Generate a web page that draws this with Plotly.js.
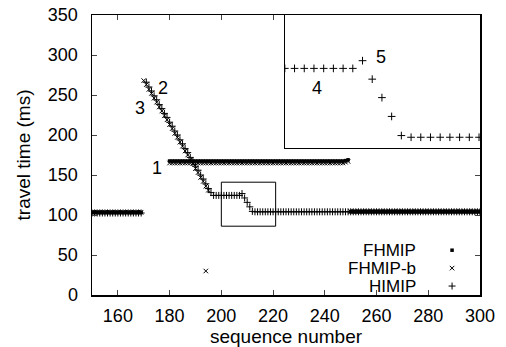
<!DOCTYPE html>
<html><head><meta charset="utf-8">
<script src="https://cdn.plot.ly/plotly-3.0.1.min.js"></script>
<style>html,body{margin:0;padding:0;background:#fff}#chart{width:506px;height:347px}</style>
</head><body><div id="chart"></div>
<script>
const seriesNames = ["FHMIP", "FHMIP-b", "HIMIP"];
const xTicks = [160, 180, 200, 220, 240, 260, 280, 300];
const yTicks = [0, 50, 100, 150, 200, 250, 300, 350];

// FHMIP: before handover, tunnelled packets, after handover
const fhmipSeq = [
 150,151,152,153,154,155,156,157,158,159,160,161,162,163,164,165,166,167,168,169,
 180,181,182,183,184,185,186,187,188,189,190,191,192,193,194,195,196,197,198,199,
 200,201,202,203,204,205,206,207,208,209,210,211,212,213,214,215,216,217,218,219,
 220,221,222,223,224,225,226,227,228,229,230,231,232,233,234,235,236,237,238,239,
 240,241,242,243,244,245,246,247,248,249,
 250,251,252,253,254,255,256,257,258,259,260,261,262,263,264,265,266,267,268,269,
 270,271,272,273,274,275,276,277,278,279,280,281,282,283,284,285,286,287,288,289,
 290,291,292,293,294,295,296,297,298,299,300];
const fhmipTime = [
 103,103,103,103,103,103,103,103,103,103,103,103,103,103,103,103,103,103,103,103,
 167.5,167.5,167.5,167.5,167.5,167.5,167.5,167.5,167.5,167.5,167.5,167.5,167.5,167.5,167.5,167.5,167.5,167.5,167.5,167.5,
 167.5,167.5,167.5,167.5,167.5,167.5,167.5,167.5,167.5,167.5,167.5,167.5,167.5,167.5,167.5,167.5,167.5,167.5,167.5,167.5,
 167.5,167.5,167.5,167.5,167.5,167.5,167.5,167.5,167.5,167.5,167.5,167.5,167.5,167.5,167.5,167.5,167.5,167.5,167.5,167.5,
 167.5,167.5,167.5,167.5,167.5,167.5,167.5,167.5,168,169,
 104,104,104,104,104,104,104,104,104,104,104,104,104,104,104,104,104,104,104,104,
 104,104,104,104,104,104,104,104,104,104,104,104,104,104,104,104,104,104,104,104,
 104,104,104,104,104,104,104,104,104,104,104];

// FHMIP-b: bicast copies (tunnel + direct path)
const fhmipbSeq = [
 150,151,152,153,154,155,156,157,158,159,160,161,162,163,164,165,166,167,168,169,
 170,171,172,173,174,175,176,177,178,179,180,181,182,183,184,185,186,187,188,189,
 190,191,192,193,194,195,
 180,181,182,183,184,185,186,187,188,189,190,191,192,193,194,195,196,197,198,199,
 200,201,202,203,204,205,206,207,208,209,210,211,212,213,214,215,216,217,218,219,
 220,221,222,223,224,225,226,227,228,229,230,231,232,233,234,235,236,237,238,239,
 240,241,242,243,244,245,246,247,248,249,
 194,
 250,251,252,253,254,255,256,257,258,259,260,261,262,263,264,265,266,267,268,269,
 270,271,272,273,274,275,276,277,278,279,280,281,282,283,284,285,286,287,288,289,
 290,291,292,293,294,295,296,297,298,299,300];
const fhmipbTime = [
 103.5,103.5,103.5,103.5,103.5,103.5,103.5,103.5,103.5,103.5,103.5,103.5,103.5,103.5,103.5,103.5,103.5,103.5,103.5,103.5,
 268,263,257,252,246,241,235,230,224,219,213,208,202,197,191,186,180,175,169,164,
 158,153,147,142,136,131,
 165,165,165,165,165,165,165,165,165,165,165,165,165,165,165,165,165,165,165,165,
 165,165,165,165,165,165,165,165,165,165,165,165,165,165,165,165,165,165,165,165,
 165,165,165,165,165,165,165,165,165,165,165,165,165,165,165,165,165,165,165,165,
 165,165,165,165,165,165,165,165,166,167,
 30,
 104.5,104.5,104.5,104.5,104.5,104.5,104.5,104.5,104.5,104.5,104.5,104.5,104.5,104.5,104.5,104.5,104.5,104.5,104.5,104.5,
 104.5,104.5,104.5,104.5,104.5,104.5,104.5,104.5,104.5,104.5,104.5,104.5,104.5,104.5,104.5,104.5,104.5,104.5,104.5,104.5,
 104.5,104.5,104.5,104.5,104.5,104.5,104.5,104.5,104.5,104.5,104.5];

// HIMIP
const himipSeq = [
 150,151,152,153,154,155,156,157,158,159,160,161,162,163,164,165,166,167,168,169,
 171,172,173,174,175,176,177,178,179,180,181,182,183,184,185,186,187,188,189,190,
 191,192,193,194,195,196,
 197,198,199,200,201,202,203,204,205,206,207,208,209,210,211,212,
 213,214,215,216,217,218,219,220,221,222,223,224,225,226,227,228,229,230,231,232,
 233,234,235,236,237,238,239,240,241,242,243,244,245,246,247,248,249,250,251,252,
 253,254,255,256,257,258,259,260,261,262,263,264,265,266,267,268,269,270,271,272,
 273,274,275,276,277,278,279,280,281,282,283,284,285,286,287,288,289,290,291,292,
 293,294,295,296,297,298,299,300];
const himipTime = [
 102.5,102.5,102.5,102.5,102.5,102.5,102.5,102.5,102.5,102.5,102.5,102.5,102.5,102.5,102.5,102.5,102.5,102.5,102.5,102.5,
 266,260,255,249,244,238,233,227,222,216,211,205,200,194,189,183,178,172,167,161,
 156,150,145,139,133,128,
 124.5,124.5,124.5,124.5,124.5,124.5,124.5,124.5,124.5,124.5,124.5,126.8,121.3,115.8,110.2,104.5,
 104,104,104,104,104,104,104,104,104,104,104,104,104,104,104,104,104,104,104,104,
 104,104,104,104,104,104,104,104,104,104,104,104,104,104,104,104,104,104,104,104,
 104,104,104,104,104,104,104,104,104,104,104,104,104,104,104,104,104,104,104,104,
 104,104,104,104,104,104,104,104,104,104,104,104,104,104,104,104,104,104,104,104,
 104,104,104,104,104,104,104,104];

const FONT = "Liberation Sans, Arial, sans-serif";
const ink = "#000";
const markerStyles = [
  {symbol: "square", size: 3.5, color: ink},
  {symbol: "x-thin-open", size: 4.5, color: ink, line: {color: ink, width: 1}},
  {symbol: "cross-thin-open", size: 5, color: ink, line: {color: ink, width: 1}}
];
// legend layout (paper fractions): key column and row heights, label column
const keyX = 0.928, labelX = 0.840;
const rowY = [0.160, 0.096, 0.032];

const traces = [
  {x: fhmipSeq, y: fhmipTime, name: seriesNames[0], type: "scatter", mode: "markers",
   marker: markerStyles[0], xaxis: "x", yaxis: "y"},
  {x: fhmipbSeq, y: fhmipbTime, name: seriesNames[1], type: "scatter", mode: "markers",
   marker: markerStyles[1], xaxis: "x", yaxis: "y"},
  {x: himipSeq, y: himipTime, name: seriesNames[2], type: "scatter", mode: "markers",
   marker: markerStyles[2], xaxis: "x", yaxis: "y"},
  {x: himipSeq, y: himipTime, name: seriesNames[2] + " (detail)", type: "scatter", mode: "markers",
   marker: {symbol: "cross-thin-open", size: 5.5, color: ink, line: {color: ink, width: 1}}, xaxis: "x2", yaxis: "y2"}
];
// legend keys (drawn on a hidden 0..1 overlay axis pair)
seriesNames.forEach((nm, i) => {
  traces.push({x: [keyX], y: [rowY[i]], name: nm + " key", type: "scatter", mode: "markers",
    marker: markerStyles[i], xaxis: "x3", yaxis: "y3", hoverinfo: "skip", cliponaxis: false});
});

const labelAnn = seriesNames.map((nm, i) => ({
  xref: "paper", yref: "paper", x: labelX, y: rowY[i], xanchor: "right", yanchor: "middle",
  text: nm, showarrow: false, font: {size: 17}
}));

const layout = {
  width: 506, height: 347,
  margin: {l: 92, r: 26, t: 15, b: 52, autoexpand: false},
  paper_bgcolor: "#fff", plot_bgcolor: "#fff",
  font: {family: FONT, size: 17, color: ink},
  showlegend: false,
  xaxis: {domain: [0, 1], range: [150, 300], tickvals: xTicks, ticks: "inside", ticklen: 5,
          showline: true, linecolor: ink, linewidth: 1.5, mirror: "ticks", showgrid: false, zeroline: false,
          tickfont: {size: 18}, ticklabelstandoff: 4,
          title: {text: "sequence number", font: {size: 19}, standoff: 5}},
  yaxis: {domain: [0, 1], range: [0, 350], tickvals: yTicks, ticks: "inside", ticklen: 5,
          showline: true, linecolor: ink, linewidth: 1.5, mirror: "ticks", showgrid: false, zeroline: false,
          tickfont: {size: 18}, ticklabelstandoff: 9,
          title: {text: "travel time (ms)", font: {size: 19}, standoff: 12}},
  xaxis2: {domain: [0.497, 1], range: [200, 220.1], anchor: "y2", showticklabels: false, ticks: "",
           showline: true, linecolor: ink, linewidth: 1, mirror: true, showgrid: false, zeroline: false},
  yaxis2: {domain: [0.525, 1], range: [100.8, 140.4], anchor: "x2", showticklabels: false, ticks: "",
           showline: true, linecolor: ink, linewidth: 1, mirror: true, showgrid: false, zeroline: false},
  xaxis3: {overlaying: "x", range: [0, 1], anchor: "y3", visible: false, fixedrange: true},
  yaxis3: {overlaying: "y", range: [0, 1], anchor: "x3", visible: false, fixedrange: true},
  shapes: [
    {type: "rect", xref: "x", yref: "y", x0: 200, x1: 221, y0: 86, y1: 141,
     line: {color: ink, width: 1}, fillcolor: "rgba(0,0,0,0)"}
  ],
  annotations: [
    {xref: "x", yref: "y", x: 175.1, y: 159, text: "1", showarrow: false, font: {size: 18}},
    {xref: "x", yref: "y", x: 177.4, y: 259, text: "2", showarrow: false, font: {size: 18}},
    {xref: "x", yref: "y", x: 168.6, y: 234, text: "3", showarrow: false, font: {size: 18}},
    {xref: "x", yref: "y", x: 237, y: 259, text: "4", showarrow: false, font: {size: 18}},
    {xref: "x", yref: "y", x: 261.7, y: 297, text: "5", showarrow: false, font: {size: 18}}
  ].concat(labelAnn)
};

Plotly.newPlot("chart", traces, layout, {staticPlot: true, displayModeBar: false});
</script>
</body></html>
